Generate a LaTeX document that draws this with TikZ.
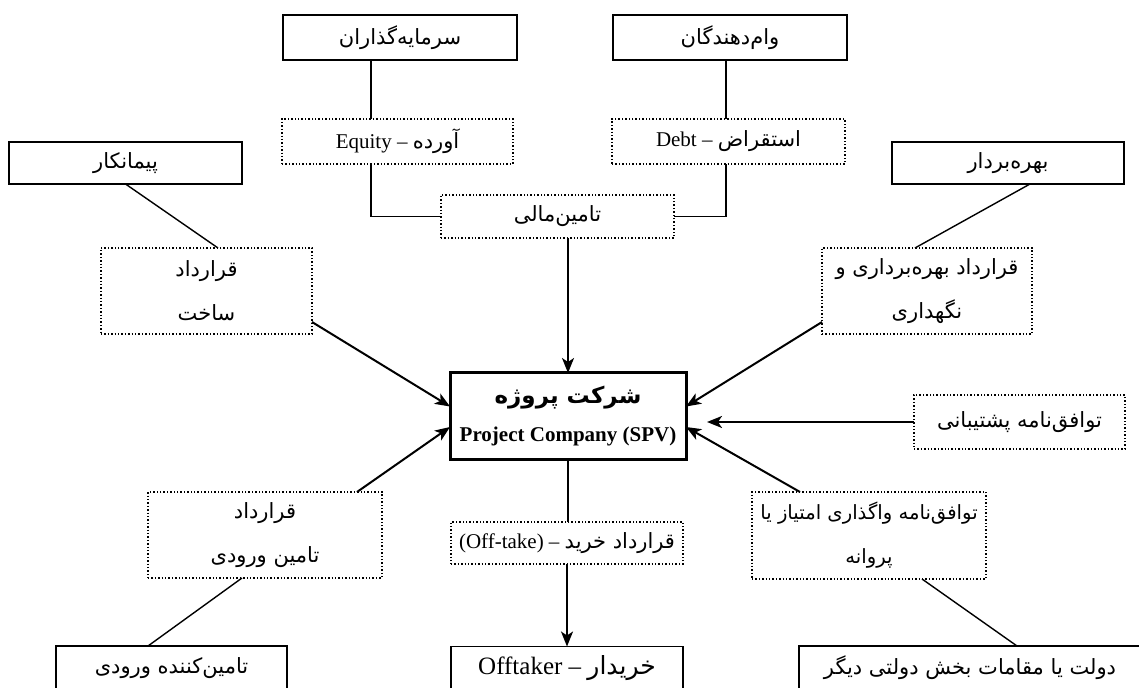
\documentclass[tikz,border=0pt]{standalone}
\usepackage{fontspec}
\setmainfont{Liberation Serif}
\newfontfamily\fafont[Script=Arabic]{DejaVu Sans}
\TeXXeTstate=1
\usetikzlibrary{arrows.meta, calc, positioning}
\newcommand{\fa}[1]{{\fafont\beginR #1\endR}}

\begin{document}
\begin{tikzpicture}[x=0.5pt, y=-0.5pt,
		party/.style={draw, line width=0.7pt, inner sep=0pt, outer sep=0pt, align=center, font=\fontsize{10.5}{13}\selectfont},
		deal/.style={draw, densely dotted, line width=0.7pt, inner sep=0pt, outer sep=0pt, align=center, font=\fontsize{10.5}{22}\selectfont},
		link/.style={line width=0.7pt},
		flow/.style={line width=1pt, -{Stealth[length=7.5pt, width=6pt, inset=2pt]}}]
		\useasboundingbox (0,0) rectangle (1139,688);
		\draw (400,37.5) node[party, minimum width=117pt, minimum height=22.5pt] (inv) {\fa{سرمایه‌گذاران}}
		(730,37.5) node[party, minimum width=117pt, minimum height=22.5pt] (lend) {\fa{وام‌دهندگان}}
		(397.5,141.5) node[deal, minimum width=115.5pt, minimum height=22.5pt] (eq) {Equity – \fa{آورده}}
		(728.5,141.5) node[deal, minimum width=116.5pt, minimum height=22.5pt] (debt) {Debt – \fa{استقراض}}
		(557.5,216.5) node[deal, minimum width=116.5pt, minimum height=21.5pt] (fin) {\fa{تامین‌مالی}}
		(125.5,163) node[party, minimum width=116.5pt, minimum height=21pt] (cont) {\fa{پیمانکار}}
		(206.5,291) node[deal, minimum width=105.5pt, minimum height=43pt] (build) {\fa{قرارداد}\\\fa{ساخت}}
		(1008,163) node[party, minimum width=116pt, minimum height=21pt] (oper) {\fa{بهره‌بردار}}
		(927,291) node[deal, minimum width=105pt, minimum height=43pt] (oprc) {\fa{قرارداد بهره‌برداری و}\\\fa{نگهداری}}
		(568,416.5) node[party, line width=1.5pt, minimum width=118pt, minimum height=43.5pt, font=\fontsize{10.5}{19}\selectfont] (spv) {{\fontsize{11.5}{19}\selectfont\fa{\bfseries شرکت پروژه}}\\\textbf{Project Company (SPV)}}
		(1019.5,422) node[deal, minimum width=105.5pt, minimum height=27pt] (supp) {\fa{توافق‌نامه پشتیبانی}}
		(265,535) node[deal, minimum width=117pt, minimum height=43pt] (inpc) {\fa{قرارداد}\\\fa{تامین ورودی}}
		(567,543) node[deal, minimum width=116pt, minimum height=21pt] (offt) {(Off-take) – \fa{قرارداد خرید}}
		(869,535.5) node[deal, minimum width=117pt, minimum height=43.5pt, font=\fontsize{9.8}{22}\selectfont] (conc) {\fa{توافق‌نامه واگذاری امتیاز یا}\\\fa{پروانه}}
		(171.5,668) node[party, minimum width=115.5pt, minimum height=22pt] (supl) {\fa{تامین‌کننده ورودی}}
		(567,668) node[party, minimum width=116pt, minimum height=21.5pt, font=\fontsize{12.5}{15}\selectfont] (buyer) {Offtaker – \fa{خریدار}}
		(970,668) node[party, minimum width=171pt, minimum height=22pt] (gov) {\fa{دولت یا مقامات بخش دولتی دیگر}};
		
		% financing branch
		\coordinate (eqx) at (371,0);
		\coordinate (debtx) at (726,0);
		\draw[link] (inv.south -| eqx) -- (eq.north -| eqx);
		\draw[link] (eq.south -| eqx) |- (fin.west);
		\draw[link] (lend.south -| debtx) -- (debt.north -| debtx);
		\draw[link] (debt.south -| debtx) |- (fin.east);
		\draw[flow] (fin.south -| spv.north) -- (spv.north);
		
		% contracts round the company
		\coordinate (suppend) at (707,422);
		\draw[link] (cont.south) -- ($(build.north)+(11.5,0)$);
		\draw[flow] ($(build.south east)+(0,-12)$) -- ($(spv.west)+(0,-10)$);
		\draw[link] ($(oper.south)+(22,0)$) -- ($(oprc.north)+(-12,0)$);
		\draw[flow] ($(oprc.south west)+(0,-12)$) -- ($(spv.east)+(0,-10)$);
		\draw[flow] (supp.west) -- (suppend);
		\draw[flow] ($(inpc.north east)+(-25,0)$) -- ($(spv.west)+(0,10.5)$);
		\draw[link] ($(inpc.south)+(-23,0)$) -- ($(supl.north)+(-23.5,0)$);
		\draw[flow] ($(conc.north west)+(48,0)$) -- ($(spv.east)+(0,10.5)$);
		\draw[link] ($(conc.south)+(53,0)$) -- ($(gov.north)+(47,0)$);
		
		% off-take
		\draw[link] (spv.south) -- (spv.south |- offt.north);
		\draw[flow] (offt.south) -- (offt.south |- buyer.north);
	\end{tikzpicture}
\end{document}
